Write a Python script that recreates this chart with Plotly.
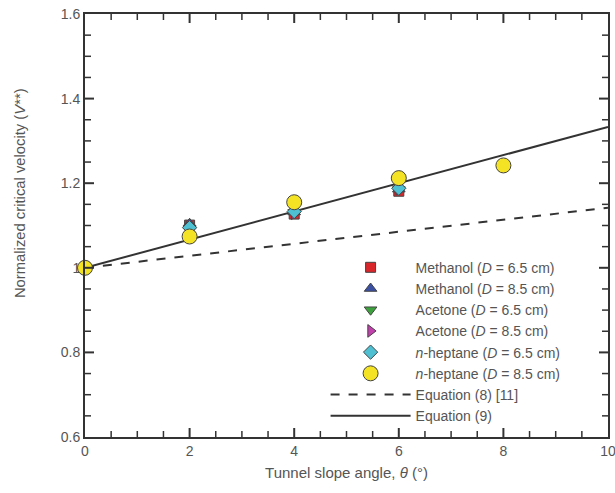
import plotly.graph_objects as go

# Slope angles (degrees) at which critical velocity was measured
theta = [0, 2, 4, 6]
theta_hep85 = [0, 2, 4, 6, 8]

# Normalized critical velocity V** for each fuel / pool diameter
methanol_65 = [1.0, 1.101, 1.127, 1.181]
methanol_85 = [1.0, 1.104, 1.132, 1.186]
acetone_65 = [1.0, 1.094, 1.131, 1.185]
acetone_85 = [1.0, 1.097, 1.129, 1.187]
heptane_65 = [1.0, 1.095, 1.133, 1.188]
heptane_85 = [1.0, 1.074, 1.155, 1.212, 1.242]

# Correlations
eq_theta = [0, 10]
eq8_vals = [1.0, 1.142]
eq9_vals = [1.0, 1.333]

# Axis ranges and tick spacing
X_RANGE = [0, 10]
Y_RANGE = [0.6, 1.6]
X_MAJOR, X_MINOR = 2, 0.5
Y_MAJOR, Y_MINOR = 0.2, 0.05

AX = "#333333"
TXT = "#555555"
FONT = "Liberation Sans"
fig = go.Figure()

fig.add_trace(go.Scatter(x=eq_theta, y=eq8_vals, mode="lines",
                         line=dict(color=AX, width=2, dash="dash"),
                         name="Equation (8) [11]", legendrank=7))
fig.add_trace(go.Scatter(x=eq_theta, y=eq9_vals, mode="lines",
                         line=dict(color=AX, width=2),
                         name="Equation (9)", legendrank=8))

series = [
    (methanol_65, theta, "square", "#d8262b", 10, "Methanol (<i>D</i> = 6.5 cm)"),
    (methanol_85, theta, "triangle-up", "#3b4fa3", 11, "Methanol (<i>D</i> = 8.5 cm)"),
    (acetone_65, theta, "triangle-down", "#3da23d", 11, "Acetone (<i>D</i> = 6.5 cm)"),
    (acetone_85, theta, "triangle-right", "#c23fae", 11, "Acetone (<i>D</i> = 8.5 cm)"),
    (heptane_65, theta, "diamond", "#4fbfd2", 11, "<i>n</i>-heptane (<i>D</i> = 6.5 cm)"),
    (heptane_85, theta_hep85, "circle", "#f4e324", 15, "<i>n</i>-heptane (<i>D</i> = 8.5 cm)"),
]
for i, (vals, xs, sym, col, sz, label) in enumerate(series):
    fig.add_trace(go.Scatter(x=xs, y=vals, mode="markers", name=label,
                             marker=dict(symbol=sym, color=col, size=sz,
                                         line=dict(color="#444444", width=1)),
                             legendrank=i + 1, cliponaxis=False))

base = dict(showline=True, linecolor=AX, linewidth=2, mirror=True, ticks="",
            showgrid=False, zeroline=False, automargin=False,
            ticklabeloverflow="allow",
            tickfont=dict(size=14, color=TXT, family=FONT))

fig.update_layout(
    xaxis=dict(range=X_RANGE, tickmode="linear", tick0=0, dtick=X_MAJOR,
               title=dict(text="Tunnel slope angle, <i>θ</i> (°)", standoff=10,
                          font=dict(size=15, color=TXT, family=FONT)),
               **base),
    yaxis=dict(range=Y_RANGE, tickmode="linear", tick0=Y_RANGE[0], dtick=Y_MAJOR,
               **base),
)

# Inward tick marks on all four sides (long at major steps, short at minor steps)
def tick_positions(lo, hi, step):
    n = int(round((hi - lo) / step))
    return [lo + k * step for k in range(1, n)]

for xv in tick_positions(X_RANGE[0], X_RANGE[1], X_MINOR):
    is_major = abs(xv / X_MAJOR - round(xv / X_MAJOR)) < 1e-6
    L, w = (9, 2) if is_major else (6, 1.5)
    for anchor, sign in ((0, 1), (1, -1)):
        fig.add_shape(type="line", xref="x", yref="paper", x0=xv, x1=xv,
                      ysizemode="pixel", yanchor=anchor, y0=0, y1=sign * L,
                      line=dict(color=AX, width=w), layer="above")

for yv in tick_positions(Y_RANGE[0], Y_RANGE[1], Y_MINOR):
    r = (yv - Y_RANGE[0]) / Y_MAJOR
    is_major = abs(r - round(r)) < 1e-6
    L, w = (9, 2) if is_major else (6, 1.5)
    for anchor, sign in ((0, 1), (1, -1)):
        fig.add_shape(type="line", xref="paper", yref="y", y0=yv, y1=yv,
                      xsizemode="pixel", xanchor=anchor, x0=0, x1=sign * L,
                      line=dict(color=AX, width=w), layer="above")

fig.add_annotation(text="Normalized critical velocity (<i>V</i>**)",
                   xref="paper", yref="paper", x=-0.124, y=0.577,
                   xanchor="center", yanchor="middle", textangle=-90,
                   showarrow=False, font=dict(size=14.8, color=TXT, family=FONT))

fig.update_layout(
    width=615, height=493,
    margin=dict(l=85, r=7, t=14, b=56),
    plot_bgcolor="white", paper_bgcolor="white",
    legend=dict(x=0.46, y=0.438, xanchor="left", yanchor="top",
                bgcolor="rgba(0,0,0,0)", itemwidth=80, tracegroupgap=0,
                font=dict(size=14, color=TXT, family=FONT)),
)

fig.write_html("out.html")
